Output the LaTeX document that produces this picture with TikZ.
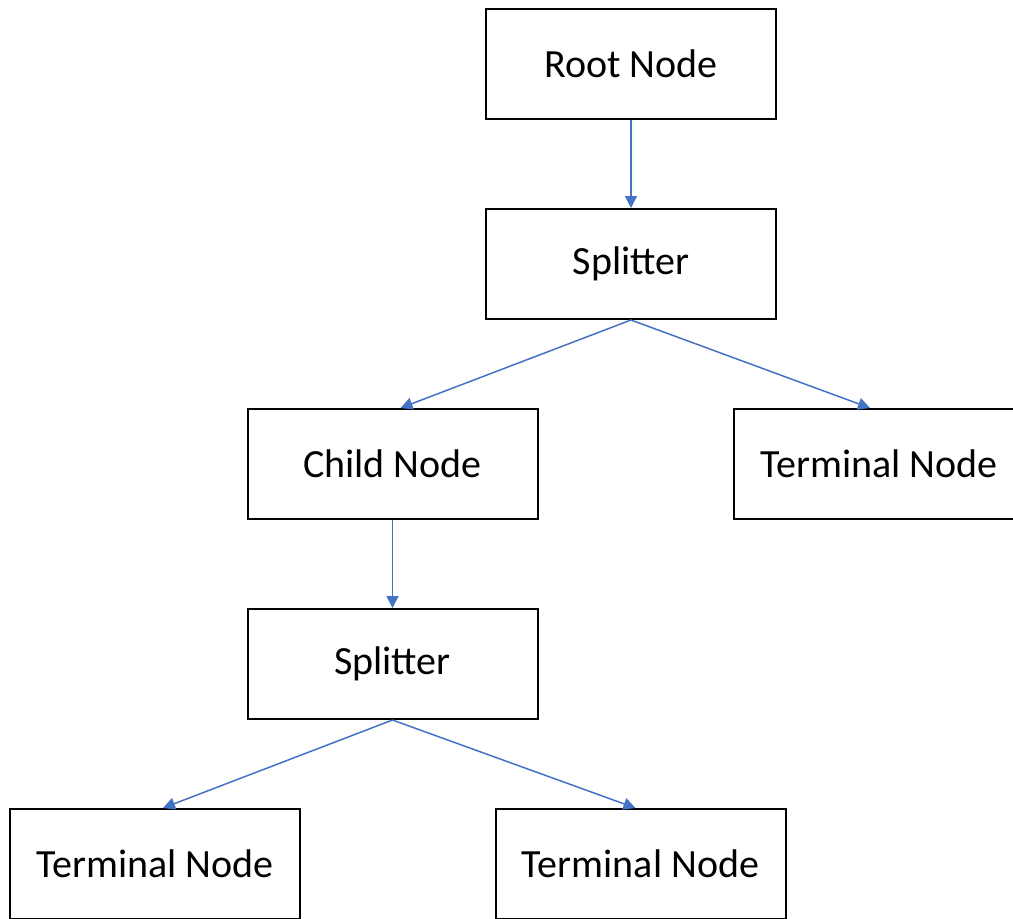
\documentclass[tikz,border=0pt]{standalone}
\usepackage{fontspec}
\setmainfont{Carlito}
\usetikzlibrary{arrows.meta}
\definecolor{linkblue}{RGB}{68,114,196}
\tikzset{%
    box/.style={%
        draw, line width=1pt, minimum width=145pt, minimum height=55pt,
        inner sep=0pt, font=\fontsize{20}{24}\selectfont
    },
    link/.style={linkblue, line width=0.75pt, -{Triangle[length=6pt,width=6pt]}}
}

\begin{document}
\begin{tikzpicture}[x=0.5pt,y=-0.5pt]
    \clip (0,0) rectangle (1013,918);
    \node[box] (root) at (631,64) {Root Node};
    \node[box] (split1) at (631,264) {Splitter};
    \node[box] (child) at (392.5,464) {Child Node};
    \node[box] (termR) at (879,464) {Terminal Node};
    \node[box] (split2) at (392.5,664) {Splitter};
    \node[box] (termL) at (155,864) {Terminal Node};
    \node[box] (termM) at (640.5,864) {Terminal Node};

    \draw[link] (root.south) -- (split1.north);
    \draw[link] (split1.south) -- ([xshift=4pt]child.north);
    \draw[link] (split1.south) -- ([xshift=-4.5pt]termR.north);
    \draw[link] (child.south) -- (split2.north);
    \draw[link] (split2.south) -- ([xshift=4pt]termL.north);
    \draw[link] (split2.south) -- ([xshift=-2.5pt]termM.north);
\end{tikzpicture}
\end{document}
